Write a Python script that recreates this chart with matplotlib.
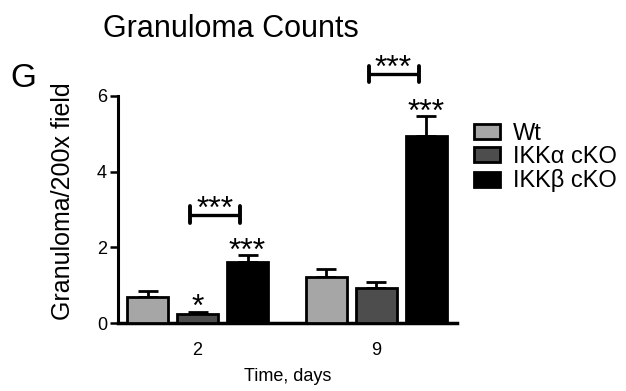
import numpy as np
import matplotlib
matplotlib.use('Agg')
import matplotlib.pyplot as plt
from matplotlib.patches import Patch

plt.rcParams['font.family'] = ['Liberation Sans', 'DejaVu Sans']

# ── Дані ─────────────────────────────────────────────────────────────────────
days = ['2', '9']
groups = ['Wt', 'IKKα cKO', 'IKKβ cKO']
means = {
    'Wt':       [0.69, 1.22],
    'IKKα cKO': [0.25, 0.93],
    'IKKβ cKO': [1.62, 4.93],
}
sems = {
    'Wt':       [0.16, 0.21],
    'IKKα cKO': [0.05, 0.16],
    'IKKβ cKO': [0.18, 0.53],
}
colors = {'Wt': '#a6a6a6', 'IKKα cKO': '#4d4d4d', 'IKKβ cKO': '#000000'}

# зірочки над стовпцями (група, день, текст)
bar_stars = [('IKKα cKO', 0, '*'), ('IKKβ cKO', 0, '***'), ('IKKβ cKO', 1, '***')]
# дужки IKKα vs IKKβ
bracket_y = [2.86, 6.58]
bracket_txt = ['***', '***']

# ── Рисунок ──────────────────────────────────────────────────────────────────
fig = plt.figure(figsize=(6.26, 3.91), dpi=100)
ax = fig.add_axes([118 / 626, 1 - 323 / 391, (457 - 118) / 626, (323 - 96) / 391])

centers = np.array([0.0, 3.57])
offsets = [-1, 0, 1]
width = 0.82

for g, off in zip(groups, offsets):
    x = centers + off
    ax.bar(x, means[g], width=width, color=colors[g], edgecolor='black',
           linewidth=2, zorder=3)
    ax.errorbar(x, means[g], yerr=[np.zeros(len(x)), sems[g]], fmt='none',
                ecolor='black', elinewidth=2, capsize=7, capthick=2, zorder=2)

star_fs = 23
for g, d, txt in bar_stars:
    x = centers[d] + offsets[groups.index(g)]
    top = means[g][d] + sems[g][d]
    ax.annotate(txt, xy=(x, top), xytext=(0, 10 - 0.58 * star_fs),
                textcoords='offset points', ha='center', va='baseline',
                fontsize=star_fs, annotation_clip=False)

for d, (yb, txt) in enumerate(zip(bracket_y, bracket_txt)):
    x1 = centers[d] + offsets[1] - 0.15
    x2 = centers[d] + offsets[2] - 0.15
    ax.plot([x1, x2], [yb, yb], color='black', lw=2.4, clip_on=False,
            solid_capstyle='butt')
    for xe in (x1, x2):
        ax.plot([xe, xe], [yb - 0.22, yb + 0.22], color='black', lw=2.8,
                clip_on=False, solid_capstyle='round')
    ax.annotate(txt, xy=((x1 + x2) / 2, yb), xytext=(0, 11 - 0.58 * star_fs),
                textcoords='offset points', ha='center', va='baseline',
                fontsize=star_fs, annotation_clip=False)

ax.set_xlim(-1.59, 5.19)
ax.set_ylim(0, 6)
ax.set_yticks([0, 2, 4, 6])
ax.set_xticks(centers)
ax.set_xticklabels(days)
ax.tick_params(axis='y', length=6, width=1.8, labelsize=13, pad=2)
ax.tick_params(axis='x', length=0, labelsize=13, pad=14)
for sp in ['top', 'right']:
    ax.spines[sp].set_visible(False)
ax.spines['left'].set_linewidth(2.2)
ax.spines['bottom'].set_linewidth(2.5)

ax.set_ylabel('Granuloma/200x field', fontsize=18)
ax.yaxis.set_label_coords(-0.128, 0.537)
ax.set_xlabel('Time, days', fontsize=13, labelpad=6)

handles = [Patch(facecolor=colors[g], edgecolor='black', linewidth=2) for g in groups]
fig.legend(handles, groups, loc='upper left', bbox_to_anchor=(474 / 626, 1 - 123 / 391),
           frameon=False, fontsize=17, handlelength=1.1, handleheight=0.6,
           handletextpad=0.55, labelspacing=0.05, borderpad=0, borderaxespad=0)

fig.text(231 / 626, 1 - 37 / 391, 'Granuloma Counts', fontsize=22,
         ha='center', va='baseline')
fig.text(10 / 626, 1 - 87 / 391, 'G', fontsize=24, ha='left', va='baseline')

fig.savefig('out.png', dpi=100, facecolor='white')
